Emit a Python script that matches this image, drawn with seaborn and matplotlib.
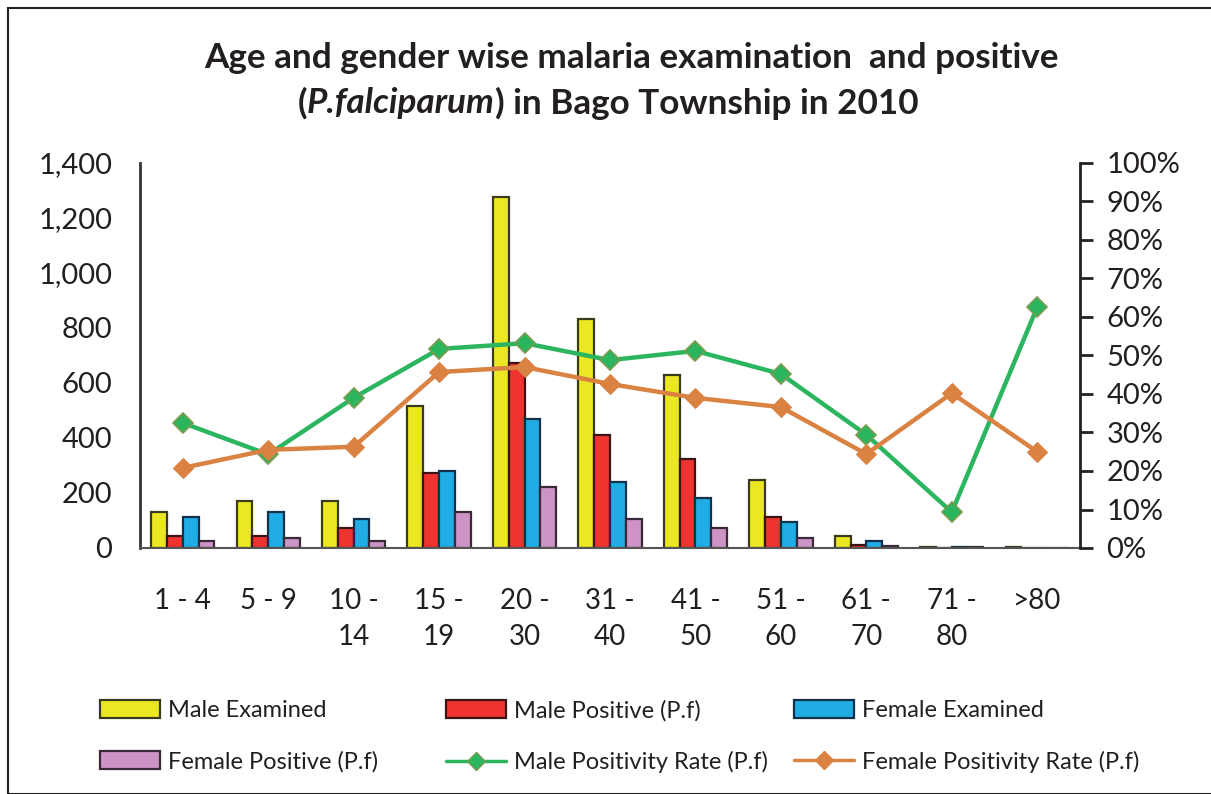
import seaborn as sns
import matplotlib.pyplot as plt
import matplotlib.patches as mpatches
from matplotlib.lines import Line2D
from matplotlib.ticker import PercentFormatter, FuncFormatter
import numpy as np
import pandas as pd

# data
ages = ['1 - 4', '5 - 9', '10 -\n14', '15 -\n19', '20 -\n30', '31 -\n40',
        '41 -\n50', '51 -\n60', '61 -\n70', '71 -\n80', '>80']
male_examined = [130, 171, 171, 518, 1275, 833, 629, 247, 44, 5, 5]
male_positive = [44, 44, 71, 273, 673, 411, 324, 113, 10, 1, 0]
female_examined = [113, 131, 105, 280, 469, 240, 182, 95, 27, 4, 0]
female_positive = [27, 36, 27, 131, 222, 105, 73, 36, 6, 2, 0]
male_rate = [0.325, 0.243, 0.39, 0.517, 0.532, 0.488, 0.512, 0.452, 0.294, 0.093, 0.626]
female_rate = [0.208, 0.255, 0.263, 0.457, 0.47, 0.426, 0.39, 0.366, 0.244, 0.402, 0.25]

bar_names = ['Male Examined', 'Male Positive (P.f)', 'Female Examined', 'Female Positive (P.f)']
bar_colors = ['#EBE823', '#EE3330', '#1FADE4', '#CD95C6']
bar_edges = ['#3A3A1C', '#3A1414', '#12304A', '#3A2A38']
green = '#2BB55E'
orange = '#DA8241'
txt = '#231F20'

df = pd.DataFrame({
    'age': ages * 4,
    'series': np.repeat(bar_names, len(ages)),
    'count': male_examined + male_positive + female_examined + female_positive,
})

sns.set_theme(style='white')
plt.rcParams['font.family'] = ['Lato', 'DejaVu Sans']

fig = plt.figure(figsize=(12.11, 7.94), dpi=100)
ax = fig.add_axes([140 / 1211, 1 - 548 / 794, 940 / 1211, 385 / 794])

sns.barplot(data=df, x='age', y='count', hue='series', order=ages, hue_order=bar_names,
            palette=bar_colors, saturation=1, width=0.74, edgecolor='#222222',
            linewidth=1.6, legend=False, ax=ax)
for i, cont in enumerate(ax.containers):
    for p in cont:
        p.set_edgecolor(bar_edges[i])

ax.set_ylim(0, 1400)
ax.set_yticks(range(0, 1401, 200))
ax.yaxis.set_major_formatter(FuncFormatter(lambda v, _: f'{int(v):,}'))
ax.set_xlim(-0.5, len(ages) - 0.5)
ax.set_xlabel('')
ax.set_ylabel('')
ax.tick_params(axis='y', length=0, labelsize=21, labelcolor=txt, pad=20)
ax.tick_params(axis='x', length=0, labelsize=20, labelcolor=txt, pad=29)
for lab in ax.get_xticklabels():
    lab.set_linespacing(1.45)
for s in ['top', 'right']:
    ax.spines[s].set_visible(False)
ax.spines['left'].set_color('#333333')
ax.spines['left'].set_linewidth(2)
ax.spines['bottom'].set_color('#555555')
ax.spines['bottom'].set_linewidth(1.5)

ax2 = ax.twinx()
xpos = np.arange(len(ages))
sns.lineplot(x=xpos, y=male_rate, color=green, linewidth=3.2, marker='D', markersize=10,
             markerfacecolor=green, markeredgecolor='#7A9A50', markeredgewidth=1.2, ax=ax2)
sns.lineplot(x=xpos, y=female_rate, color=orange, linewidth=3.2, marker='D', markersize=10,
             markerfacecolor=orange, markeredgecolor=orange, ax=ax2)
ax2.set_ylim(0, 1)
ax2.set_yticks(np.arange(0, 1.01, 0.1))
ax2.yaxis.set_major_formatter(PercentFormatter(1, decimals=0))
ax2.tick_params(axis='y', direction='out', length=9, width=2, color='#222222',
                labelsize=21, labelcolor=txt, pad=10)
for s in ['top', 'left', 'bottom']:
    ax2.spines[s].set_visible(False)
ax2.spines['right'].set_color('#222222')
ax2.spines['right'].set_linewidth(2)

# title, second line has an italic part
fig.text(631 / 1211, 1 - 58 / 794, 'Age and gender wise malaria examination  and positive',
         ha='center', va='center', fontsize=25.3, fontweight='bold', color=txt)
fig.canvas.draw()
r = fig.canvas.get_renderer()
parts = [('(', 'normal'), ('P.falciparum', 'italic'), (') in Bago Township in 2010', 'normal')]
objs = [fig.text(0, 1 - 103 / 794, s, ha='left', va='center', fontsize=25.3,
                 fontweight='bold', style=st, color=txt) for s, st in parts]
widths = [o.get_window_extent(r).width for o in objs]
x0 = 608 - sum(widths) / 2
for o, w in zip(objs, widths):
    o.set_x(x0 / 1211)
    x0 += w

# legend in three columns
bar_handles = [mpatches.Patch(facecolor=c, edgecolor=e, linewidth=1.6)
               for c, e in zip(bar_colors, bar_edges)]
male_h = Line2D([], [], color=green, linewidth=2.5, marker='D', markersize=9,
                markerfacecolor=green, markeredgecolor='#7A9A50')
female_h = Line2D([], [], color=orange, linewidth=2.5, marker='D', markersize=9,
                  markerfacecolor=orange, markeredgecolor=orange)
columns = [
    ([bar_handles[0], bar_handles[3]], [bar_names[0], bar_names[3]], 100),
    ([bar_handles[1], male_h], [bar_names[1], 'Male Positivity Rate (P.f)'], 446),
    ([bar_handles[2], female_h], [bar_names[2], 'Female Positivity Rate (P.f)'], 794),
]
for hs, ls, xl in columns:
    fig.legend(hs, ls, loc='upper left', bbox_to_anchor=(xl / 1211, 1 - 700 / 794),
               frameon=False, fontsize=17, handlelength=2.55, handleheight=0.8,
               handletextpad=0.35, labelspacing=1.25, borderpad=0, borderaxespad=0,
               labelcolor=txt)

fig.patches.append(mpatches.Rectangle((8 / 1211, 0), 1.2, 1 - 8 / 794, transform=fig.transFigure,
                                      fill=False, edgecolor='#222222', linewidth=1.5))

fig.savefig('out.png', dpi=100)
